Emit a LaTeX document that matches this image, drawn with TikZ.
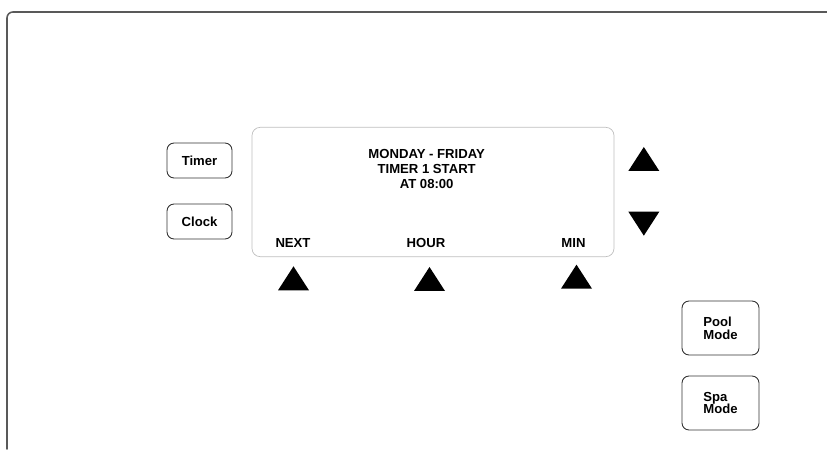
\documentclass[tikz,border=0pt]{standalone}
\usepackage{fontspec}
\setmainfont{Liberation Sans}
\usepackage{tikz}
\usetikzlibrary{arrows.meta}
\usepackage{xcolor}

\begin{document}
\begin{tikzpicture}[font=\bfseries\fontsize{11.2pt}{12.7pt}\selectfont,line cap=round,
  btn/.style={draw=black!80,line width=0.75pt,rounded corners=6pt,inner sep=0pt},
  modebtn/.style={btn,minimum width=2.31cm,minimum height=1.62cm,align=left,
    font=\bfseries\fontsize{11.2pt}{11pt}\selectfont},
  key/.style={fill=black}]
\useasboundingbox (0,0) rectangle (24.81,13.47);
\draw[black!65,line width=1.3pt,rounded corners=5pt] (0.21,0) -- (0.21,13.11) -- (24.81,13.11);
% display
\node[draw=black!25,line width=0.6pt,rounded corners=7pt,minimum width=10.86cm,minimum height=3.88cm] (screen) at (12.99,7.71) {};
\node[align=center] (msg) at (12.8,8.41) {MONDAY - FRIDAY\\TIMER 1 START\\AT 08:00};
\node (next) at (8.79,6.195) {NEXT};
\node (hour) at (12.78,6.195) {HOUR};
\node (min) at (17.205,6.195) {MIN};
% soft keys under the display
\fill[key] (8.34,4.76) -- ++(0.93,0) -- ++(-0.465,0.72) -- cycle;
\fill[key] (12.42,4.74) -- ++(0.93,0) -- ++(-0.465,0.72) -- cycle;
\fill[key] (16.83,4.81) -- ++(0.93,0) -- ++(-0.465,0.72) -- cycle;
% up / down
\fill[key] (18.85,8.34) -- ++(0.93,0) -- ++(-0.465,0.72) -- cycle;
\fill[key] (18.85,7.12) -- ++(0.93,0) -- ++(-0.465,-0.72) -- cycle;
% buttons
\node[btn,minimum width=1.95cm,minimum height=1.05cm] (timer) at (5.985,8.655) {Timer};
\node[btn,minimum width=1.95cm,minimum height=1.05cm] (clock) at (5.985,6.825) {Clock};
\node[modebtn] (pool) at (21.615,3.63) {Pool\\Mode};
\node[modebtn] (spa) at (21.615,1.38) {Spa\\Mode};
\end{tikzpicture}
\end{document}
